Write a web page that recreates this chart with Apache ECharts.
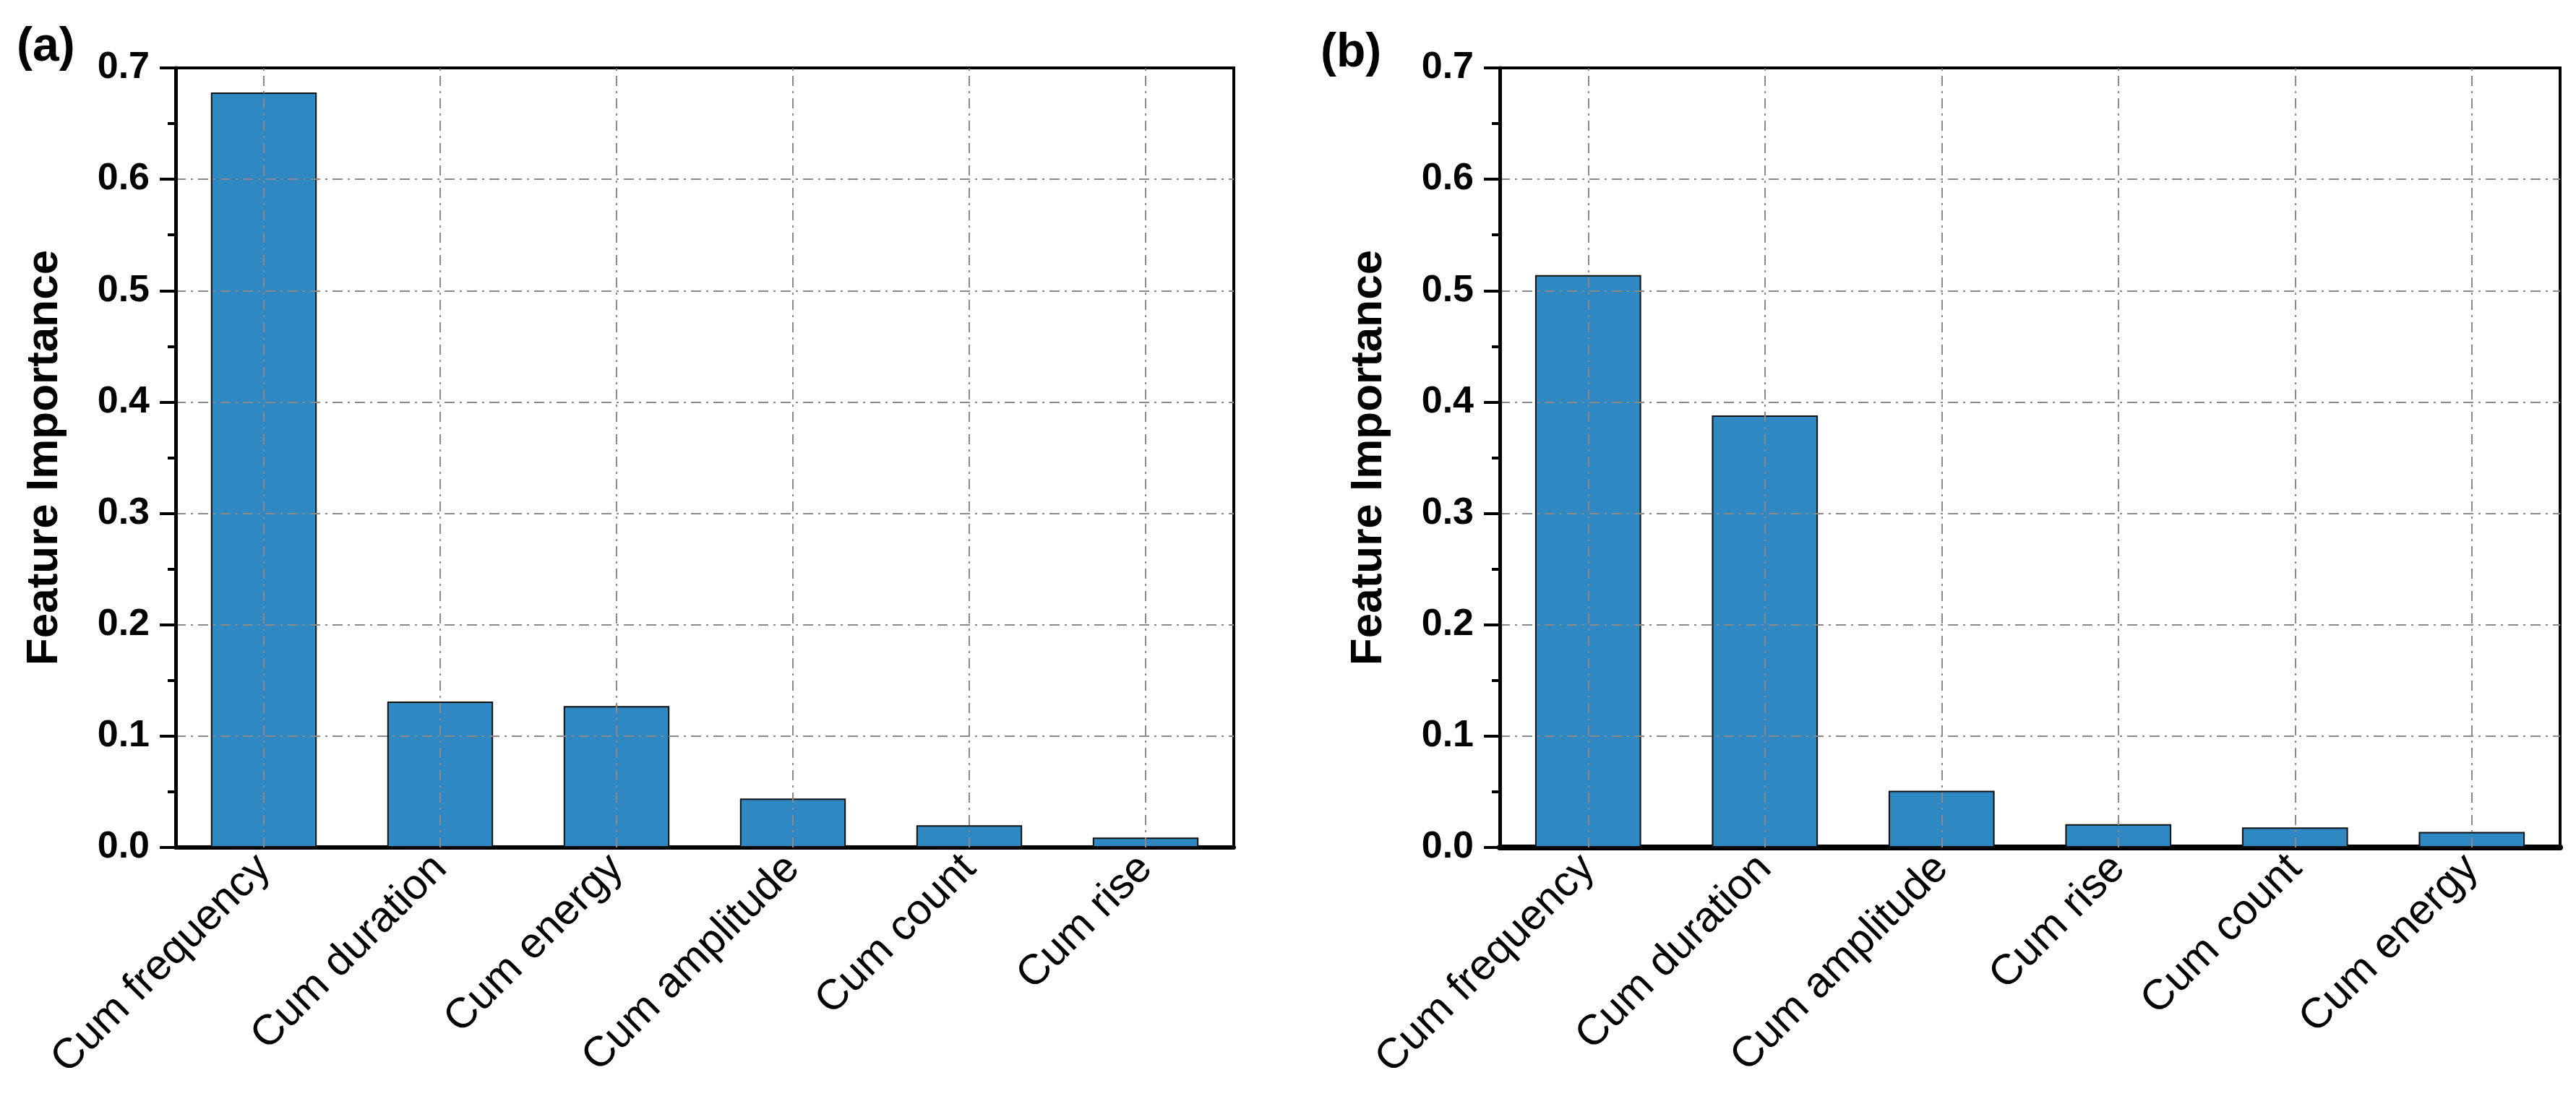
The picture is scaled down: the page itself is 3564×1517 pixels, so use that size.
<!DOCTYPE html>
<html>
<head>
<meta charset="utf-8">
<script src="https://cdn.jsdelivr.net/npm/echarts@6/dist/echarts.min.js"></script>
<style>
  html, body { margin: 0; padding: 0; background: #fff; }
  #chart { width: 3564px; height: 1517px; }
</style>
</head>
<body>
<div id="chart"></div>
<script>
// panel (a)
var catsA = ['Cum frequency', 'Cum duration', 'Cum energy', 'Cum amplitude', 'Cum count', 'Cum rise'];
var valsA = [0.678, 0.131, 0.127, 0.044, 0.020, 0.009];
// panel (b)
var catsB = ['Cum frequency', 'Cum duration', 'Cum amplitude', 'Cum rise', 'Cum count', 'Cum energy'];
var valsB = [0.514, 0.388, 0.051, 0.021, 0.018, 0.014];
// y axis ticks
var yTicks = [0, 0.1, 0.2, 0.3, 0.4, 0.5, 0.6, 0.7];

var FONT = '"Liberation Sans", Arial, sans-serif';
var barColor = '#2f88c1';
var gridColor = '#8a8a8a';
var dashDot = [14, 7, 3, 7];

var chart = echarts.init(document.getElementById('chart'));

var makeX = function (idx, cats, lineW) {
    return {
        type: 'category',
        gridIndex: idx,
        data: cats,
        axisLine: { lineStyle: { color: '#000', width: lineW } },
        axisTick: { show: false },
        axisLabel: {
            interval: 0,
            rotate: 45,
            margin: 20,
            color: '#000',
            fontFamily: FONT,
            fontSize: 59
        },
        splitLine: { show: false }
    };
};

var makeY = function (idx) {
    return {
        type: 'value',
        gridIndex: idx,
        min: yTicks[0],
        max: yTicks[yTicks.length - 1],
        interval: 0.1,
        z: 5,
        name: 'Feature Importance',
        nameLocation: 'middle',
        nameGap: 150,
        nameTextStyle: {
            color: '#000',
            fontFamily: FONT,
            fontWeight: 'bold',
            fontSize: 62
        },
        axisLine: { show: true, lineStyle: { color: '#000', width: 5 } },
        axisTick: { show: true, inside: false, length: 22, lineStyle: { color: '#000', width: 4 } },
        minorTick: { show: true, splitNumber: 2, length: 11, lineStyle: { color: '#000', width: 4 } },
        axisLabel: {
            margin: 36,
            color: '#000',
            fontFamily: FONT,
            fontWeight: 'bold',
            fontSize: 52,
            formatter: function (v) { return v.toFixed(1); }
        },
        splitLine: {
            show: true,
            showMinLine: false,
            showMaxLine: false,
            lineStyle: { color: gridColor, width: 2, type: dashDot }
        }
    };
};

var makeSeries = function (idx, cats, vals) {
    return {
        type: 'bar',
        xAxisIndex: idx,
        yAxisIndex: idx,
        data: vals,
        barWidth: '60%',
        itemStyle: { color: barColor, borderColor: '#111', borderWidth: 2 },
        markLine: {
            silent: true,
            symbol: 'none',
            animation: false,
            label: { show: false },
            lineStyle: { color: gridColor, width: 2, type: dashDot },
            data: cats.map(function (c) { return { xAxis: c }; })
        }
    };
};

var option = {
    animation: false,
    backgroundColor: '#fff',
    title: [{
        text: '(a)',
        left: 18,
        top: 28,
        textStyle: { fontFamily: FONT, fontWeight: 'bold', fontSize: 66, color: '#000' }
    }, {
        text: '(b)',
        left: 1822,
        top: 36,
        textStyle: { fontFamily: FONT, fontWeight: 'bold', fontSize: 66, color: '#000' }
    }],
    grid: [{
        left: 243, top: 94, width: 1464, height: 1079,
        show: true, borderColor: '#000', borderWidth: 4, backgroundColor: '#fff'
    }, {
        left: 2075, top: 94, width: 1467, height: 1079,
        show: true, borderColor: '#000', borderWidth: 4, backgroundColor: '#fff'
    }],
    xAxis: [makeX(0, catsA, 6), makeX(1, catsB, 8)],
    yAxis: [makeY(0), makeY(1)],
    series: [makeSeries(0, catsA, valsA), makeSeries(1, catsB, valsB)]
};

chart.setOption(option);
</script>
</body>
</html>
